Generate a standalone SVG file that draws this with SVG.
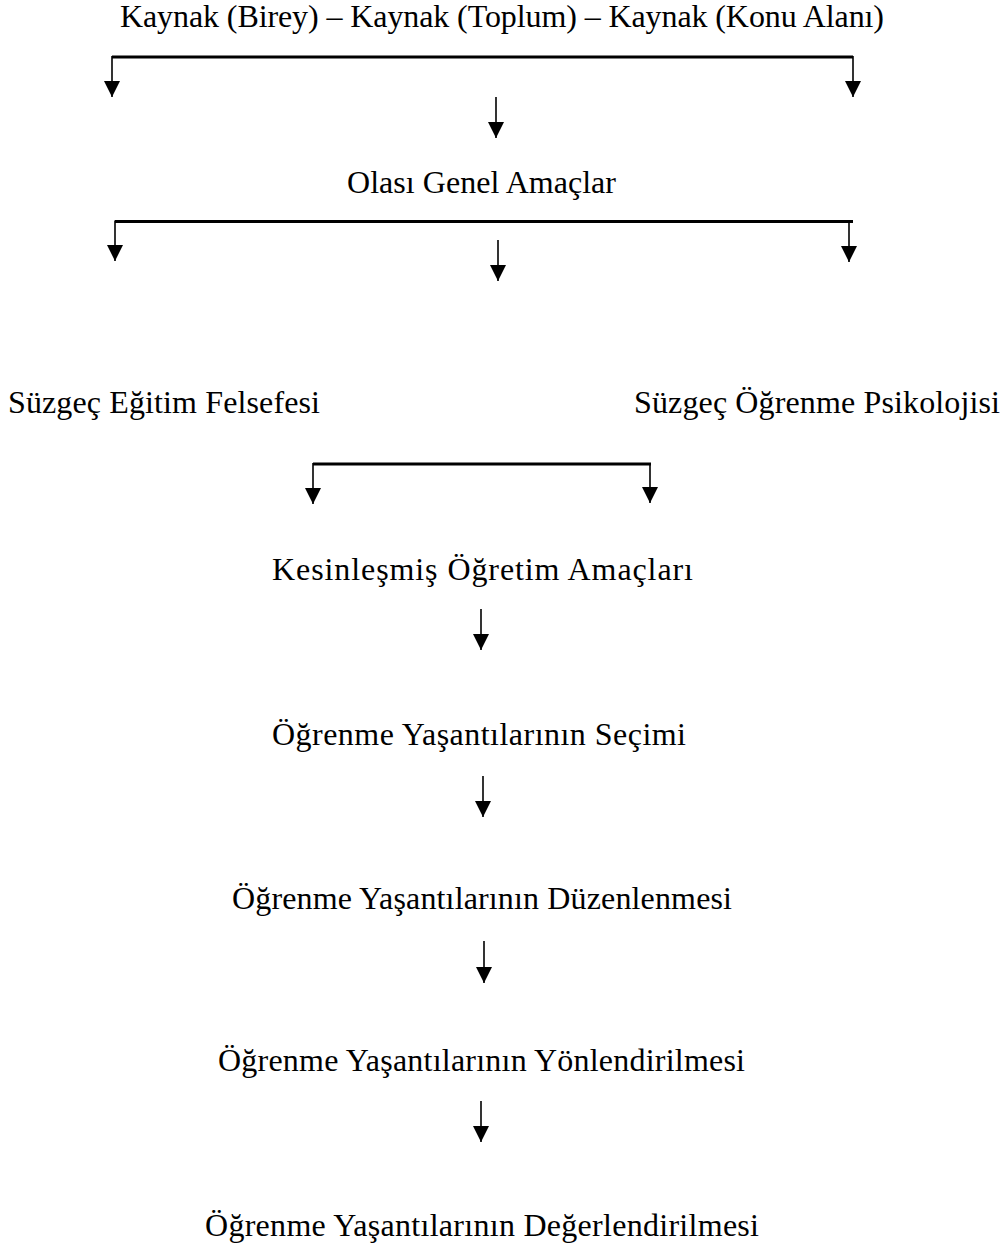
<svg xmlns="http://www.w3.org/2000/svg" width="1008" height="1255" viewBox="0 0 1008 1255">
  <style>
    .lbl { font-family: "Liberation Serif", "Times New Roman", serif; font-size: 32px; fill: #000; }
    .bar { stroke: #000; stroke-width: 2.8; fill: none; }
    .drop { stroke: #000; stroke-width: 1.6; fill: none; marker-end: url(#head); }
  </style>
  <defs>
    <marker id="head" markerUnits="userSpaceOnUse" viewBox="0 -8 16 16" refX="16" refY="0" markerWidth="16" markerHeight="16" orient="auto">
      <path d="M0,-8 L16,0 L0,8 z" fill="#000"/>
    </marker>
  </defs>
  <rect width="1008" height="1255" fill="#fff"/>

  <!-- nodes -->
  <g id="kaynak"><text class="lbl" x="120" y="27" textLength="764" lengthAdjust="spacing">Kaynak (Birey) – Kaynak (Toplum) – Kaynak (Konu Alanı)</text></g>
  <g id="olasi"><text class="lbl" x="347" y="193" textLength="269" lengthAdjust="spacing">Olası Genel Amaçlar</text></g>
  <g id="suzgec-felsefe"><text class="lbl" x="8" y="413" textLength="312" lengthAdjust="spacing">Süzgeç Eğitim Felsefesi</text></g>
  <g id="suzgec-psikoloji"><text class="lbl" x="634" y="413" textLength="366" lengthAdjust="spacing">Süzgeç Öğrenme Psikolojisi</text></g>
  <g id="kesin"><text class="lbl" x="272" y="580" textLength="421" lengthAdjust="spacing">Kesinleşmiş Öğretim Amaçları</text></g>
  <g id="secim"><text class="lbl" x="272" y="745" textLength="414" lengthAdjust="spacing">Öğrenme Yaşantılarının Seçimi</text></g>
  <g id="duzen"><text class="lbl" x="232" y="909" textLength="500" lengthAdjust="spacing">Öğrenme Yaşantılarının Düzenlenmesi</text></g>
  <g id="yonlen"><text class="lbl" x="218" y="1071" textLength="527" lengthAdjust="spacing">Öğrenme Yaşantılarının Yönlendirilmesi</text></g>
  <g id="deger"><text class="lbl" x="205" y="1236" textLength="554" lengthAdjust="spacing">Öğrenme Yaşantılarının Değerlendirilmesi</text></g>

  <!-- connectors -->
  <g id="connectors">
    <line class="bar" x1="112" y1="57" x2="853" y2="57"/>
    <line class="drop" x1="112" y1="56" x2="112" y2="97"/>
    <line class="drop" x1="853" y1="56" x2="853" y2="97"/>
    <line class="drop" x1="496" y1="97" x2="496" y2="138"/>

    <line class="bar" x1="115" y1="221.5" x2="853" y2="221.5"/>
    <line class="drop" x1="115" y1="220.5" x2="115" y2="261"/>
    <line class="drop" x1="849" y1="220.5" x2="849" y2="262"/>
    <line class="drop" x1="498" y1="240" x2="498" y2="281"/>

    <line class="bar" x1="313" y1="464" x2="651" y2="464"/>
    <line class="drop" x1="313" y1="463" x2="313" y2="504"/>
    <line class="drop" x1="650" y1="463" x2="650" y2="503"/>

    <line class="drop" x1="481" y1="609" x2="481" y2="650"/>
    <line class="drop" x1="483" y1="776" x2="483" y2="817"/>
    <line class="drop" x1="484" y1="941" x2="484" y2="983"/>
    <line class="drop" x1="481" y1="1101" x2="481" y2="1142"/>
  </g>
</svg>
